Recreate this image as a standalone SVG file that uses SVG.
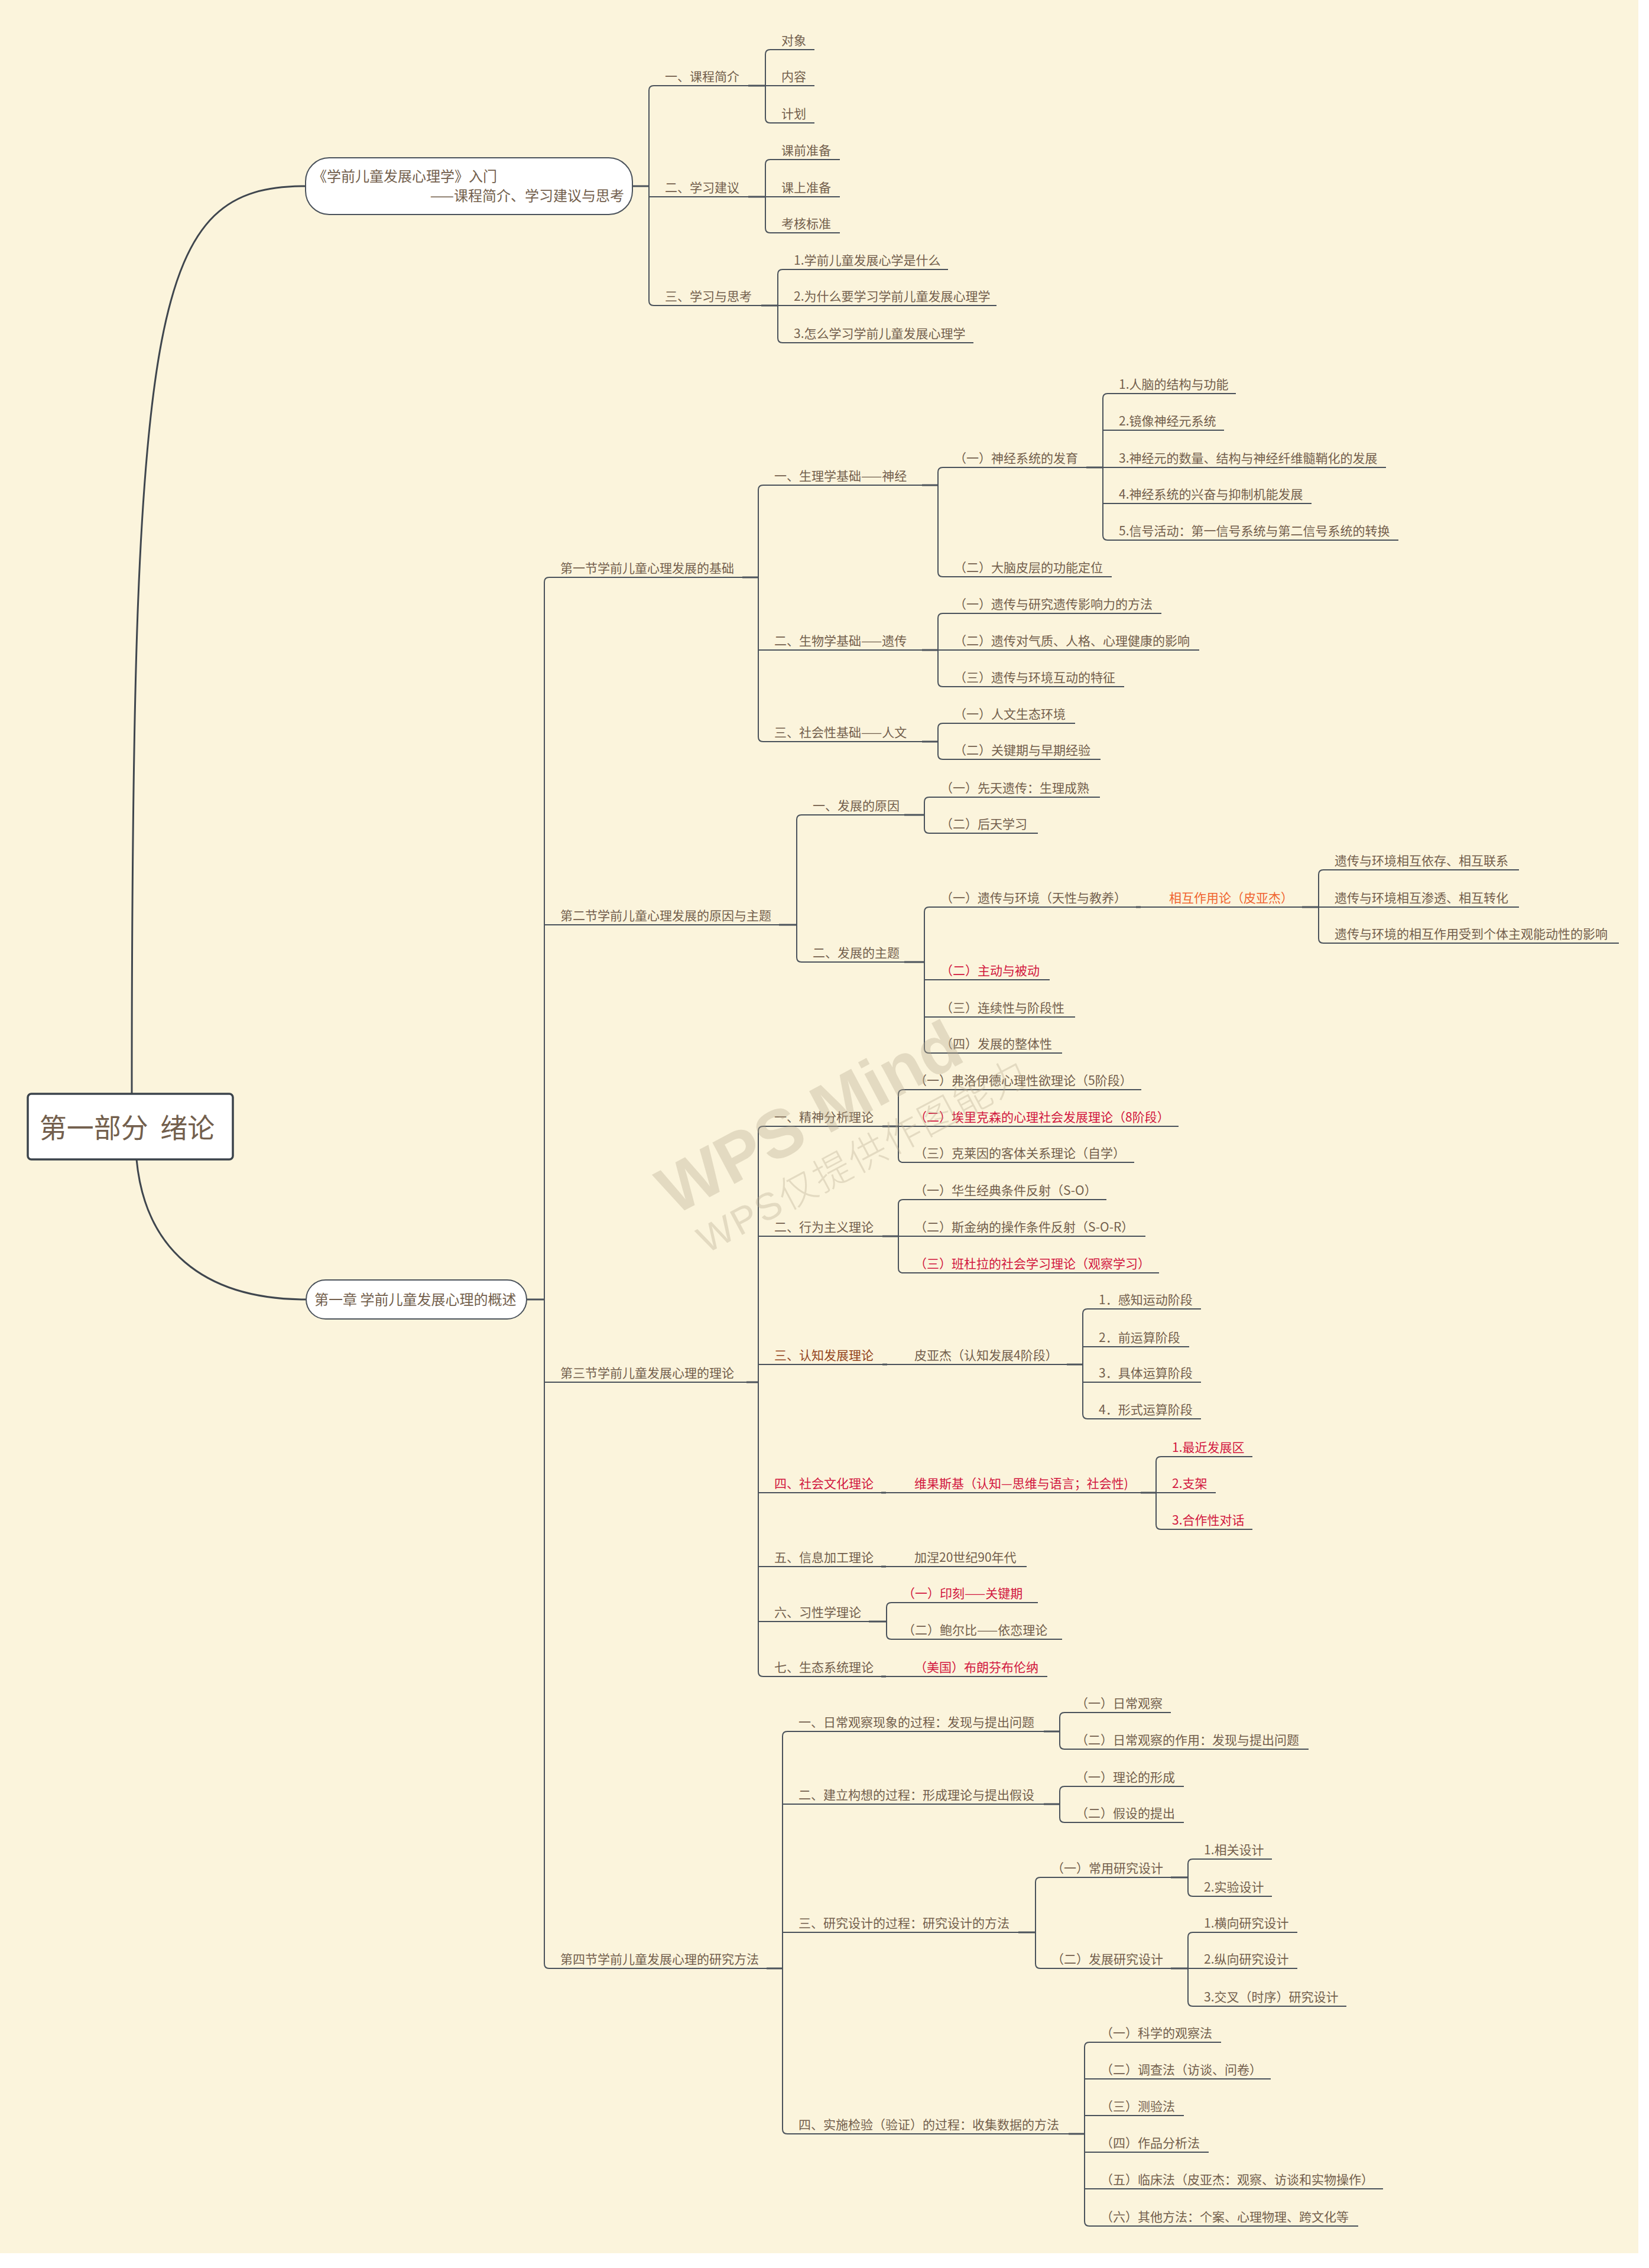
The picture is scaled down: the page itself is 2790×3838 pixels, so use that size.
<svg xmlns="http://www.w3.org/2000/svg" width="2790" height="3838" viewBox="0 0 2790 3838">
<style>
.t{font-family:"Noto Sans CJK SC","Noto Sans",sans-serif;font-size:21px;fill:#735f4d}
.big{font-size:24px}
.huge{font-size:46px;white-space:pre}
.red{fill:#d2173f}
.org{fill:#f06430}
.brn{fill:#93441c}
.ul{stroke:#4a525b;stroke-width:2;fill:none}
.cn{stroke:#4a525b;stroke-width:2;fill:none}
.st{stroke:#4a525b;stroke-width:3;fill:none}
.root{stroke:#3f464e;stroke-width:3;fill:none}
.wm{font-family:"Liberation Sans","Noto Sans CJK SC",sans-serif;fill:#b8ab90;opacity:0.35}
</style>
<rect x="0" y="0" width="2790" height="3838" fill="#ffffff"/>
<rect x="0" y="0" width="2772" height="3813" fill="#fbf4dc"/>

<g id="connectors">
<path class="root" d="M223,1851 C223,500 260,315 517,315"/>
<path class="root" d="M231,1962 C245,2110 340,2199 518,2199"/>
<path class="st" d="M1070,315H1098"/>
<path class="cn" d="M1098,315V153Q1098,145 1106,145"/>
<path class="cn" d="M1098,315V333H1106"/>
<path class="cn" d="M1098,315V509Q1098,517 1106,517"/>
<path class="st" d="M1266,145H1295"/>
<path class="cn" d="M1295,145V92Q1295,84 1303,84"/>
<path class="cn" d="M1295,145H1303"/>
<path class="cn" d="M1295,145V200Q1295,208 1303,208"/>
<path class="st" d="M1266,333H1295"/>
<path class="cn" d="M1295,333V278Q1295,270 1303,270"/>
<path class="cn" d="M1295,333H1303"/>
<path class="cn" d="M1295,333V386Q1295,394 1303,394"/>
<path class="st" d="M1288,517H1316"/>
<path class="cn" d="M1316,517V464Q1316,456 1324,456"/>
<path class="cn" d="M1316,517H1324"/>
<path class="cn" d="M1316,517V572Q1316,580 1324,580"/>

<path class="st" d="M891,2199H921"/>
<path class="cn" d="M921,2199V985Q921,977 929,977"/>
<path class="cn" d="M921,2199V1565H929"/>
<path class="cn" d="M921,2199V2339H929"/>
<path class="cn" d="M921,2199V3323Q921,3331 929,3331"/>

<path class="st" d="M1256,977H1283"/>
<path class="cn" d="M1283,977V829Q1283,821 1291,821"/>
<path class="cn" d="M1283,977V1100H1291"/>
<path class="cn" d="M1283,977V1247Q1283,1255 1291,1255"/>
<path class="st" d="M1560,821H1587"/>
<path class="cn" d="M1587,821V799Q1587,791 1595,791"/>
<path class="cn" d="M1587,821V968Q1587,976 1595,976"/>
<path class="st" d="M1838,791H1866"/>
<path class="cn" d="M1866,791V674Q1866,666 1874,666"/>
<path class="cn" d="M1866,791V728H1874"/>
<path class="cn" d="M1866,791H1874"/>
<path class="cn" d="M1866,791V852H1874"/>
<path class="cn" d="M1866,791V906Q1866,914 1874,914"/>
<path class="st" d="M1560,1100H1587"/>
<path class="cn" d="M1587,1100V1046Q1587,1038 1595,1038"/>
<path class="cn" d="M1587,1100H1595"/>
<path class="cn" d="M1587,1100V1154Q1587,1162 1595,1162"/>
<path class="st" d="M1560,1255H1587"/>
<path class="cn" d="M1587,1255V1232Q1587,1224 1595,1224"/>
<path class="cn" d="M1587,1255V1277Q1587,1285 1595,1285"/>

<path class="st" d="M1318,1565H1348"/>
<path class="cn" d="M1348,1565V1387Q1348,1379 1356,1379"/>
<path class="cn" d="M1348,1565V1620Q1348,1628 1356,1628"/>
<path class="st" d="M1530,1379H1564"/>
<path class="cn" d="M1564,1379V1357Q1564,1349 1572,1349"/>
<path class="cn" d="M1564,1379V1402Q1564,1410 1572,1410"/>
<path class="st" d="M1530,1628H1564"/>
<path class="cn" d="M1564,1628V1543Q1564,1535 1572,1535"/>
<path class="cn" d="M1564,1628V1658H1572"/>
<path class="cn" d="M1564,1628V1721H1572"/>
<path class="cn" d="M1564,1628V1774Q1564,1782 1572,1782"/>
<path class="st" d="M1922,1535H1930"/>
<path class="st" d="M2203,1535H2231"/>
<path class="cn" d="M2231,1535V1480Q2231,1472 2239,1472"/>
<path class="cn" d="M2231,1535H2239"/>
<path class="cn" d="M2231,1535V1588Q2231,1596 2239,1596"/>

<path class="st" d="M1263,2339H1283"/>
<path class="cn" d="M1283,2339V1914Q1283,1906 1291,1906"/>
<path class="cn" d="M1283,2339V2092H1291"/>
<path class="cn" d="M1283,2339V2309H1291"/>
<path class="cn" d="M1283,2339V2526H1291"/>
<path class="cn" d="M1283,2339V2651H1291"/>
<path class="cn" d="M1283,2339V2744H1291"/>
<path class="cn" d="M1283,2339V2829Q1283,2837 1291,2837"/>
<path class="st" d="M1493,1906H1520"/>
<path class="cn" d="M1520,1906V1852Q1520,1844 1528,1844"/>
<path class="cn" d="M1520,1906H1528"/>
<path class="cn" d="M1520,1906V1959Q1520,1967 1528,1967"/>
<path class="st" d="M1493,2092H1520"/>
<path class="cn" d="M1520,2092V2038Q1520,2030 1528,2030"/>
<path class="cn" d="M1520,2092H1528"/>
<path class="cn" d="M1520,2092V2146Q1520,2154 1528,2154"/>
<path class="st" d="M1493,2309H1501"/>
<path class="st" d="M1805,2309H1832"/>
<path class="cn" d="M1832,2309V2223Q1832,2215 1840,2215"/>
<path class="cn" d="M1832,2309V2279H1840"/>
<path class="cn" d="M1832,2309V2339H1840"/>
<path class="cn" d="M1832,2309V2393Q1832,2401 1840,2401"/>
<path class="st" d="M1491,2526H1499"/>
<path class="st" d="M1930,2526H1956"/>
<path class="cn" d="M1956,2526V2473Q1956,2465 1964,2465"/>
<path class="cn" d="M1956,2526H1964"/>
<path class="cn" d="M1956,2526V2580Q1956,2588 1964,2588"/>
<path class="st" d="M1491,2651H1499"/>
<path class="st" d="M1470,2744H1500"/>
<path class="cn" d="M1500,2744V2720Q1500,2712 1508,2712"/>
<path class="cn" d="M1500,2744V2766Q1500,2774 1508,2774"/>
<path class="st" d="M1491,2837H1499"/>

<path class="st" d="M1297,3331H1324"/>
<path class="cn" d="M1324,3331V2938Q1324,2930 1332,2930"/>
<path class="cn" d="M1324,3331V3053H1332"/>
<path class="cn" d="M1324,3331V3270H1332"/>
<path class="cn" d="M1324,3331V3603Q1324,3611 1332,3611"/>
<path class="st" d="M1766,2930H1793"/>
<path class="cn" d="M1793,2930V2906Q1793,2898 1801,2898"/>
<path class="cn" d="M1793,2930V2952Q1793,2960 1801,2960"/>
<path class="st" d="M1766,3053H1793"/>
<path class="cn" d="M1793,3053V3031Q1793,3023 1801,3023"/>
<path class="cn" d="M1793,3053V3076Q1793,3084 1801,3084"/>
<path class="st" d="M1723,3270H1752"/>
<path class="cn" d="M1752,3270V3185Q1752,3177 1760,3177"/>
<path class="cn" d="M1752,3270V3323Q1752,3331 1760,3331"/>
<path class="st" d="M1981,3177H2010"/>
<path class="cn" d="M2010,3177V3154Q2010,3146 2018,3146"/>
<path class="cn" d="M2010,3177V3201Q2010,3209 2018,3209"/>
<path class="st" d="M1981,3331H2010"/>
<path class="cn" d="M2010,3331V3278Q2010,3270 2018,3270"/>
<path class="cn" d="M2010,3331H2018"/>
<path class="cn" d="M2010,3331V3387Q2010,3395 2018,3395"/>
<path class="st" d="M1808,3611H1835"/>
<path class="cn" d="M1835,3611V3464Q1835,3456 1843,3456"/>
<path class="cn" d="M1835,3611V3518H1843"/>
<path class="cn" d="M1835,3611V3580H1843"/>
<path class="cn" d="M1835,3611V3642H1843"/>
<path class="cn" d="M1835,3611V3704H1843"/>
<path class="cn" d="M1835,3611V3759Q1835,3767 1843,3767"/>
</g>

<g id="root">
<rect x="47" y="1851" width="347" height="111" rx="6" fill="#ffffff" stroke="#3b434b" stroke-width="3.5"/>
<text class="t huge" x="215" y="1925" text-anchor="middle">第一部分  绪论</text>
</g>

<g id="n-intro">
<rect x="517" y="267" width="553" height="96" rx="40" fill="#ffffff" stroke="#4a525b" stroke-width="2"/>
<text class="t big" x="529" y="307">《学前儿童发展心理学》入门</text>
<text class="t big" x="1056" y="340" text-anchor="end">——课程简介、学习建议与思考</text>
</g>
<g id="n-a1"><text class="t" x="1125" y="137">一、课程简介</text><line class="ul" x1="1106" y1="145" x2="1266" y2="145"/></g>
<g id="n-a1a"><text class="t" x="1322" y="76">对象</text><line class="ul" x1="1303" y1="84" x2="1378" y2="84"/></g>
<g id="n-a1b"><text class="t" x="1322" y="137">内容</text><line class="ul" x1="1303" y1="145" x2="1378" y2="145"/></g>
<g id="n-a1c"><text class="t" x="1322" y="200">计划</text><line class="ul" x1="1303" y1="208" x2="1378" y2="208"/></g>
<g id="n-a2"><text class="t" x="1125" y="325">二、学习建议</text><line class="ul" x1="1106" y1="333" x2="1266" y2="333"/></g>
<g id="n-a2a"><text class="t" x="1322" y="262">课前准备</text><line class="ul" x1="1303" y1="270" x2="1421" y2="270"/></g>
<g id="n-a2b"><text class="t" x="1322" y="325">课上准备</text><line class="ul" x1="1303" y1="333" x2="1421" y2="333"/></g>
<g id="n-a2c"><text class="t" x="1322" y="386">考核标准</text><line class="ul" x1="1303" y1="394" x2="1421" y2="394"/></g>
<g id="n-a3"><text class="t" x="1125" y="509">三、学习与思考</text><line class="ul" x1="1106" y1="517" x2="1288" y2="517"/></g>
<g id="n-a3a"><text class="t" x="1343" y="448">1.学前儿童发展心学是什么</text><line class="ul" x1="1324" y1="456" x2="1604" y2="456"/></g>
<g id="n-a3b"><text class="t" x="1343" y="509">2.为什么要学习学前儿童发展心理学</text><line class="ul" x1="1324" y1="517" x2="1686" y2="517"/></g>
<g id="n-a3c"><text class="t" x="1343" y="572">3.怎么学习学前儿童发展心理学</text><line class="ul" x1="1324" y1="580" x2="1647" y2="580"/></g>

<g id="n-chapter1">
<rect x="518" y="2166" width="373" height="66" rx="33" fill="#ffffff" stroke="#4a525b" stroke-width="2"/>
<text class="t big" x="532" y="2208">第一章 学前儿童发展心理的概述</text>
</g>

<g id="n-b1"><text class="t" x="948" y="969">第一节学前儿童心理发展的基础</text><line class="ul" x1="929" y1="977" x2="1256" y2="977"/></g>
<g id="n-b1a"><text class="t" x="1310" y="813">一、生理学基础——神经</text><line class="ul" x1="1291" y1="821" x2="1560" y2="821"/></g>
<g id="n-b1a1"><text class="t" x="1614" y="783">（一）神经系统的发育</text><line class="ul" x1="1595" y1="791" x2="1838" y2="791"/></g>
<g id="n-b1a1-1"><text class="t" x="1893" y="658">1.人脑的结构与功能</text><line class="ul" x1="1874" y1="666" x2="2091" y2="666"/></g>
<g id="n-b1a1-2"><text class="t" x="1893" y="720">2.镜像神经元系统</text><line class="ul" x1="1874" y1="728" x2="2071" y2="728"/></g>
<g id="n-b1a1-3"><text class="t" x="1893" y="783">3.神经元的数量、结构与神经纤维髓鞘化的发展</text><line class="ul" x1="1874" y1="791" x2="2345" y2="791"/></g>
<g id="n-b1a1-4"><text class="t" x="1893" y="844">4.神经系统的兴奋与抑制机能发展</text><line class="ul" x1="1874" y1="852" x2="2219" y2="852"/></g>
<g id="n-b1a1-5"><text class="t" x="1893" y="906">5.信号活动：第一信号系统与第二信号系统的转换</text><line class="ul" x1="1874" y1="914" x2="2366" y2="914"/></g>
<g id="n-b1a2"><text class="t" x="1614" y="968">（二）大脑皮层的功能定位</text><line class="ul" x1="1595" y1="976" x2="1881" y2="976"/></g>
<g id="n-b1b"><text class="t" x="1310" y="1092">二、生物学基础——遗传</text><line class="ul" x1="1291" y1="1100" x2="1560" y2="1100"/></g>
<g id="n-b1b1"><text class="t" x="1614" y="1030">（一）遗传与研究遗传影响力的方法</text><line class="ul" x1="1595" y1="1038" x2="1965" y2="1038"/></g>
<g id="n-b1b2"><text class="t" x="1614" y="1092">（二）遗传对气质、人格、心理健康的影响</text><line class="ul" x1="1595" y1="1100" x2="2029" y2="1100"/></g>
<g id="n-b1b3"><text class="t" x="1614" y="1154">（三）遗传与环境互动的特征</text><line class="ul" x1="1595" y1="1162" x2="1902" y2="1162"/></g>
<g id="n-b1c"><text class="t" x="1310" y="1247">三、社会性基础——人文</text><line class="ul" x1="1291" y1="1255" x2="1560" y2="1255"/></g>
<g id="n-b1c1"><text class="t" x="1614" y="1216">（一）人文生态环境</text><line class="ul" x1="1595" y1="1224" x2="1819" y2="1224"/></g>
<g id="n-b1c2"><text class="t" x="1614" y="1277">（二）关键期与早期经验</text><line class="ul" x1="1595" y1="1285" x2="1862" y2="1285"/></g>

<g id="n-b2"><text class="t" x="948" y="1557">第二节学前儿童心理发展的原因与主题</text><line class="ul" x1="929" y1="1565" x2="1318" y2="1565"/></g>
<g id="n-b2a"><text class="t" x="1375" y="1371">一、发展的原因</text><line class="ul" x1="1356" y1="1379" x2="1530" y2="1379"/></g>
<g id="n-b2a1"><text class="t" x="1591" y="1341">（一）先天遗传：生理成熟</text><line class="ul" x1="1572" y1="1349" x2="1861" y2="1349"/></g>
<g id="n-b2a2"><text class="t" x="1591" y="1402">（二）后天学习</text><line class="ul" x1="1572" y1="1410" x2="1756" y2="1410"/></g>
<g id="n-b2b"><text class="t" x="1375" y="1620">二、发展的主题</text><line class="ul" x1="1356" y1="1628" x2="1530" y2="1628"/></g>
<g id="n-b2b1"><text class="t" x="1591" y="1527">（一）遗传与环境（天性与教养）</text><line class="ul" x1="1572" y1="1535" x2="1922" y2="1535"/></g>
<g id="n-b2b1a"><text class="t org" x="1978" y="1527">相互作用论（皮亚杰）</text><line class="ul" x1="1930" y1="1535" x2="2203" y2="1535"/></g>
<g id="n-b2b1a1"><text class="t" x="2258" y="1464">遗传与环境相互依存、相互联系</text><line class="ul" x1="2239" y1="1472" x2="2570" y2="1472"/></g>
<g id="n-b2b1a2"><text class="t" x="2258" y="1527">遗传与环境相互渗透、相互转化</text><line class="ul" x1="2239" y1="1535" x2="2570" y2="1535"/></g>
<g id="n-b2b1a3"><text class="t" x="2258" y="1588">遗传与环境的相互作用受到个体主观能动性的影响</text><line class="ul" x1="2239" y1="1596" x2="2739" y2="1596"/></g>
<g id="n-b2b2"><text class="t red" x="1591" y="1650">（二）主动与被动</text><line class="ul" x1="1572" y1="1658" x2="1776" y2="1658"/></g>
<g id="n-b2b3"><text class="t" x="1591" y="1713">（三）连续性与阶段性</text><line class="ul" x1="1572" y1="1721" x2="1819" y2="1721"/></g>
<g id="n-b2b4"><text class="t" x="1591" y="1774">（四）发展的整体性</text><line class="ul" x1="1572" y1="1782" x2="1797" y2="1782"/></g>

<g id="n-b3"><text class="t" x="948" y="2331">第三节学前儿童发展心理的理论</text><line class="ul" x1="929" y1="2339" x2="1263" y2="2339"/></g>
<g id="n-b3a"><text class="t" x="1310" y="1898">一、精神分析理论</text><line class="ul" x1="1291" y1="1906" x2="1493" y2="1906"/></g>
<g id="n-b3a1"><text class="t" x="1547" y="1836">（一）弗洛伊德心理性欲理论（5阶段）</text><line class="ul" x1="1528" y1="1844" x2="1931" y2="1844"/></g>
<g id="n-b3a2"><text class="t red" x="1547" y="1898">（二）埃里克森的心理社会发展理论（8阶段）</text><line class="ul" x1="1528" y1="1906" x2="1994" y2="1906"/></g>
<g id="n-b3a3"><text class="t" x="1547" y="1959">（三）克莱因的客体关系理论（自学）</text><line class="ul" x1="1528" y1="1967" x2="1919" y2="1967"/></g>
<g id="n-b3b"><text class="t" x="1310" y="2084">二、行为主义理论</text><line class="ul" x1="1291" y1="2092" x2="1493" y2="2092"/></g>
<g id="n-b3b1"><text class="t" x="1547" y="2022">（一）华生经典条件反射（S-O）</text><line class="ul" x1="1528" y1="2030" x2="1872" y2="2030"/></g>
<g id="n-b3b2"><text class="t" x="1547" y="2084">（二）斯金纳的操作条件反射（S-O-R）</text><line class="ul" x1="1528" y1="2092" x2="1938" y2="2092"/></g>
<g id="n-b3b3"><text class="t red" x="1547" y="2146">（三）班杜拉的社会学习理论（观察学习）</text><line class="ul" x1="1528" y1="2154" x2="1961" y2="2154"/></g>
<g id="n-b3c"><text class="t brn" x="1310" y="2301">三、认知发展理论</text><line class="ul" x1="1291" y1="2309" x2="1493" y2="2309"/></g>
<g id="n-b3c1"><text class="t" x="1547" y="2301">皮亚杰（认知发展4阶段）</text><line class="ul" x1="1501" y1="2309" x2="1805" y2="2309"/></g>
<g id="n-b3c1a"><text class="t" x="1859" y="2207">1．感知运动阶段</text><line class="ul" x1="1840" y1="2215" x2="2032" y2="2215"/></g>
<g id="n-b3c1b"><text class="t" x="1859" y="2271">2．前运算阶段</text><line class="ul" x1="1840" y1="2279" x2="2012" y2="2279"/></g>
<g id="n-b3c1c"><text class="t" x="1859" y="2331">3．具体运算阶段</text><line class="ul" x1="1840" y1="2339" x2="2032" y2="2339"/></g>
<g id="n-b3c1d"><text class="t" x="1859" y="2393">4．形式运算阶段</text><line class="ul" x1="1840" y1="2401" x2="2032" y2="2401"/></g>
<g id="n-b3d"><text class="t red" x="1310" y="2518">四、社会文化理论</text><line class="ul" x1="1291" y1="2526" x2="1491" y2="2526"/></g>
<g id="n-b3d1"><text class="t red" x="1547" y="2518">维果斯基（认知—思维与语言；社会性)</text><line class="ul" x1="1499" y1="2526" x2="1930" y2="2526"/></g>
<g id="n-b3d1a"><text class="t red" x="1983" y="2457">1.最近发展区</text><line class="ul" x1="1964" y1="2465" x2="2119" y2="2465"/></g>
<g id="n-b3d1b"><text class="t red" x="1983" y="2518">2.支架</text><line class="ul" x1="1964" y1="2526" x2="2057" y2="2526"/></g>
<g id="n-b3d1c"><text class="t red" x="1983" y="2580">3.合作性对话</text><line class="ul" x1="1964" y1="2588" x2="2119" y2="2588"/></g>
<g id="n-b3e"><text class="t" x="1310" y="2643">五、信息加工理论</text><line class="ul" x1="1291" y1="2651" x2="1491" y2="2651"/></g>
<g id="n-b3e1"><text class="t" x="1547" y="2643">加涅20世纪90年代</text><line class="ul" x1="1499" y1="2651" x2="1737" y2="2651"/></g>
<g id="n-b3f"><text class="t" x="1310" y="2736">六、习性学理论</text><line class="ul" x1="1291" y1="2744" x2="1470" y2="2744"/></g>
<g id="n-b3f1"><text class="t red" x="1527" y="2704">（一）印刻——关键期</text><line class="ul" x1="1508" y1="2712" x2="1756" y2="2712"/></g>
<g id="n-b3f2"><text class="t" x="1527" y="2766">（二）鲍尔比——依恋理论</text><line class="ul" x1="1508" y1="2774" x2="1797" y2="2774"/></g>
<g id="n-b3g"><text class="t" x="1310" y="2829">七、生态系统理论</text><line class="ul" x1="1291" y1="2837" x2="1491" y2="2837"/></g>
<g id="n-b3g1"><text class="t red" x="1547" y="2829">（美国）布朗芬布伦纳</text><line class="ul" x1="1499" y1="2837" x2="1772" y2="2837"/></g>

<g id="n-b4"><text class="t" x="948" y="3323">第四节学前儿童发展心理的研究方法</text><line class="ul" x1="929" y1="3331" x2="1297" y2="3331"/></g>
<g id="n-b4a"><text class="t" x="1351" y="2922">一、日常观察现象的过程：发现与提出问题</text><line class="ul" x1="1332" y1="2930" x2="1766" y2="2930"/></g>
<g id="n-b4a1"><text class="t" x="1820" y="2890">（一）日常观察</text><line class="ul" x1="1801" y1="2898" x2="1981" y2="2898"/></g>
<g id="n-b4a2"><text class="t" x="1820" y="2952">（二）日常观察的作用：发现与提出问题</text><line class="ul" x1="1801" y1="2960" x2="2214" y2="2960"/></g>
<g id="n-b4b"><text class="t" x="1351" y="3045">二、建立构想的过程：形成理论与提出假设</text><line class="ul" x1="1332" y1="3053" x2="1766" y2="3053"/></g>
<g id="n-b4b1"><text class="t" x="1820" y="3015">（一）理论的形成</text><line class="ul" x1="1801" y1="3023" x2="2003" y2="3023"/></g>
<g id="n-b4b2"><text class="t" x="1820" y="3076">（二）假设的提出</text><line class="ul" x1="1801" y1="3084" x2="2003" y2="3084"/></g>
<g id="n-b4c"><text class="t" x="1351" y="3262">三、研究设计的过程：研究设计的方法</text><line class="ul" x1="1332" y1="3270" x2="1723" y2="3270"/></g>
<g id="n-b4c1"><text class="t" x="1779" y="3169">（一）常用研究设计</text><line class="ul" x1="1760" y1="3177" x2="1981" y2="3177"/></g>
<g id="n-b4c1a"><text class="t" x="2037" y="3138">1.相关设计</text><line class="ul" x1="2018" y1="3146" x2="2152" y2="3146"/></g>
<g id="n-b4c1b"><text class="t" x="2037" y="3201">2.实验设计</text><line class="ul" x1="2018" y1="3209" x2="2152" y2="3209"/></g>
<g id="n-b4c2"><text class="t" x="1779" y="3323">（二）发展研究设计</text><line class="ul" x1="1760" y1="3331" x2="1981" y2="3331"/></g>
<g id="n-b4c2a"><text class="t" x="2037" y="3262">1.横向研究设计</text><line class="ul" x1="2018" y1="3270" x2="2195" y2="3270"/></g>
<g id="n-b4c2b"><text class="t" x="2037" y="3323">2.纵向研究设计</text><line class="ul" x1="2018" y1="3331" x2="2195" y2="3331"/></g>
<g id="n-b4c2c"><text class="t" x="2037" y="3387">3.交叉（时序）研究设计</text><line class="ul" x1="2018" y1="3395" x2="2278" y2="3395"/></g>
<g id="n-b4d"><text class="t" x="1351" y="3603">四、实施检验（验证）的过程：收集数据的方法</text><line class="ul" x1="1332" y1="3611" x2="1808" y2="3611"/></g>
<g id="n-b4d1"><text class="t" x="1862" y="3448">（一）科学的观察法</text><line class="ul" x1="1843" y1="3456" x2="2066" y2="3456"/></g>
<g id="n-b4d2"><text class="t" x="1862" y="3510">（二）调查法（访谈、问卷）</text><line class="ul" x1="1843" y1="3518" x2="2150" y2="3518"/></g>
<g id="n-b4d3"><text class="t" x="1862" y="3572">（三）测验法</text><line class="ul" x1="1843" y1="3580" x2="2003" y2="3580"/></g>
<g id="n-b4d4"><text class="t" x="1862" y="3634">（四）作品分析法</text><line class="ul" x1="1843" y1="3642" x2="2045" y2="3642"/></g>
<g id="n-b4d5"><text class="t" x="1862" y="3696">（五）临床法（皮亚杰：观察、访谈和实物操作）</text><line class="ul" x1="1843" y1="3704" x2="2340" y2="3704"/></g>
<g id="n-b4d6"><text class="t" x="1862" y="3759">（六）其他方法：个案、心理物理、跨文化等</text><line class="ul" x1="1843" y1="3767" x2="2298" y2="3767"/></g>

<g id="watermark">
<text class="wm" x="1140" y="2058" font-size="115" font-weight="bold" transform="rotate(-28 1140 2058)">WPS Mind</text>
<text class="wm" x="1195" y="2122" font-size="64" font-weight="300" letter-spacing="3" transform="rotate(-28 1195 2122)">WPS仅提供作图能力</text>
</g>
</svg>
